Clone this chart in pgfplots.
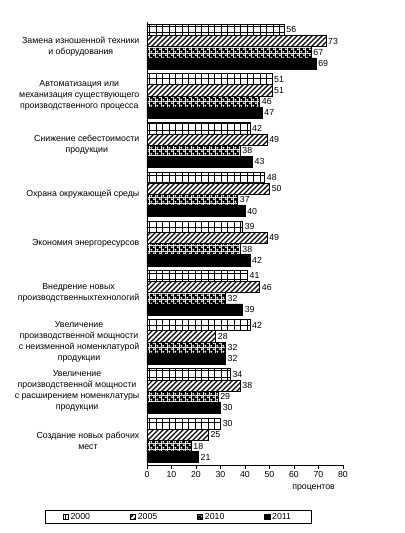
\documentclass[border=0pt]{standalone}
\usepackage{pgfplots}
\pgfplotsset{compat=1.18}
\usepackage{fontspec}
\setmainfont{Liberation Sans}
\usetikzlibrary{patterns}

\pgfdeclarepatternformonly{mygrid}{\pgfqpoint{-0.5bp}{-0.5bp}}{\pgfqpoint{6.5bp}{6.5bp}}{\pgfqpoint{6.5bp}{6.5bp}}{%
  \pgfsetlinewidth{0.6bp}%
  \pgfpathmoveto{\pgfqpoint{-0.5bp}{0bp}}\pgfpathlineto{\pgfqpoint{7bp}{0bp}}%
  \pgfpathmoveto{\pgfqpoint{0bp}{-0.5bp}}\pgfpathlineto{\pgfqpoint{0bp}{7bp}}%
  \pgfusepath{stroke}}
\pgfdeclarepatternformonly{myhatch}{\pgfqpoint{-1bp}{-1bp}}{\pgfqpoint{6bp}{6bp}}{\pgfqpoint{5bp}{5bp}}{%
  \pgfsetlinewidth{1.4bp}%
  \pgfpathmoveto{\pgfqpoint{0bp}{0bp}}\pgfpathlineto{\pgfqpoint{5.1bp}{5.1bp}}%
  \pgfusepath{stroke}}
\pgfdeclarepatternformonly{mychecker}{\pgfqpoint{0bp}{0bp}}{\pgfqpoint{6bp}{6bp}}{\pgfqpoint{6bp}{6bp}}{%
  \pgfseteorule
  \pgfpathrectangle{\pgfqpoint{0bp}{0bp}}{\pgfqpoint{6bp}{6bp}}%
  \pgfpathcircle{\pgfqpoint{1.5bp}{1.5bp}}{1.45bp}%
  \pgfpathcircle{\pgfqpoint{4.5bp}{4.5bp}}{1.45bp}%
  \pgfusepath{fill}}

\begin{document}
\fontsize{8.8}{11}\selectfont
\begin{tikzpicture}
\path[use as bounding box] (-147bp,-68bp) rectangle (258bp,465bp);
\begin{axis}[
  scale only axis,
  width=196bp, height=443bp,
  xmin=0, xmax=80, xtick={0,10,...,80},
  ymin=-0.5, ymax=8.5, y dir=reverse,
  axis lines*=left,
  ytick={0,...,8},
  yticklabels={
    {Замена изношенной техники\\и оборудования},
    {Автоматизация или\\механизация существующего\\производственного процесса},
    {Снижение себестоимости\\продукции},
    {Охрана окружающей среды},
    {Экономия энергоресурсов},
    {Внедрение новых\\производственныхтехнологий},
    {Увеличение\\производственной мощности\\с неизменной номенклатурой\\продукции},
    {Увеличение\\производственной мощности\\с расширением номенклатуры\\продукции},
    {Создание новых рабочих\\мест}},
  yticklabel style={align=center, font=\fontsize{8.8}{11}\selectfont, inner sep=4bp},
  y tick style={draw=none},
  x tick style={black, line width=0.6bp},
  tick align=outside,
  major tick length=3.5bp,
  xticklabel style={font=\fontsize{8.8}{11}\selectfont},
  /pgf/number format/assume math mode=true,
  axis line style={black, line width=0.7bp},
  xlabel={процентов},
  xlabel style={at={(ticklabel cs:0.85)}, anchor=north, font=\fontsize{8.8}{11}\selectfont, yshift=-1bp},
  xbar=0pt,
  bar width=11.2bp,
  nodes near coords,
  every node near coord/.append style={font=\fontsize{8.8}{11}\selectfont, text=black, inner sep=2bp},
  legend columns=4,
  legend style={at={(axis description cs:0.158,-0.117)}, anchor=center, draw=black, line width=0.7bp,
    font=\fontsize{8.8}{11}\selectfont, inner xsep=18bp, inner ysep=1bp,
    /tikz/every even column/.append style={column sep=38bp}},
  legend image code/.code={\draw[#1, draw=black, line width=0.5bp] (0bp,-2.6bp) rectangle (5.2bp,2.6bp);},
]
\addplot[draw=black, line width=0.6bp, pattern=mygrid, bar shift=16.8bp] coordinates {(56,0) (51,1) (42,2) (48,3) (39,4) (41,5) (42,6) (34,7) (30,8)};
\addplot[draw=black, line width=0.6bp, pattern=myhatch, bar shift=5.6bp] coordinates {(73,0) (51,1) (49,2) (50,3) (49,4) (46,5) (28,6) (38,7) (25,8)};
\addplot[draw=black, line width=0.6bp, pattern=mychecker, bar shift=-5.6bp] coordinates {(67,0) (46,1) (38,2) (37,3) (38,4) (32,5) (32,6) (29,7) (18,8)};
\addplot[draw=black, line width=0.6bp, fill=black, bar shift=-16.8bp] coordinates {(69,0) (47,1) (43,2) (40,3) (42,4) (39,5) (32,6) (30,7) (21,8)};
\legend{2000,2005,2010,2011}
\end{axis}
\end{tikzpicture}
\end{document}
